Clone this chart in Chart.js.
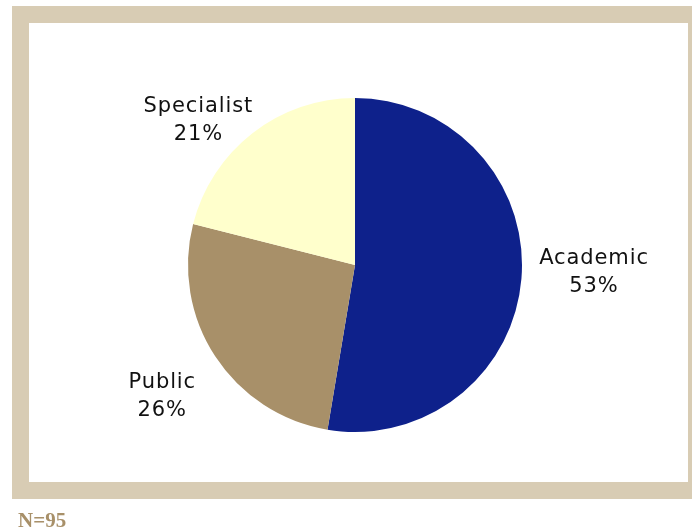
<!DOCTYPE html>
<html>
<head>
<meta charset="utf-8">
<script src="https://cdn.jsdelivr.net/npm/chart.js@4/dist/chart.umd.min.js"></script>
<style>
    html, body { margin: 0; padding: 0; background: #ffffff; }
    #wrap { position: relative; width: 692px; height: 530px; overflow: hidden; }
    #frame { position: absolute; left: 12px; top: 6px; width: 680px; height: 493px; background: #d8ccb4; }
    #inner { position: absolute; left: 17px; top: 17px; width: 659px; height: 459px; background: #ffffff; }
    #chartBox { position: absolute; left: 0; top: 0; width: 692px; height: 530px; }
    #note { position: absolute; left: 18px; top: 510px; font: bold 21px 'Liberation Serif', serif; line-height: 21px; color: #a89069; }
</style>
</head>
<body>
<div id="wrap">
    <div id="frame"><div id="inner"></div></div>
    <div id="chartBox"><canvas id="pieChart" width="692" height="530"></canvas></div>
    <div id="note">N=95</div>
</div>
<script>
// ---- data (respondents, N=95) ----
const categories = ['Academic', 'Public', 'Specialist'];
const counts = [50, 25, 20];
const percentLabels = ['53%', '26%', '21%'];

// ---- style ----
const sliceColors = ['#0e218b', '#a89069', '#ffffcc'];
const labelDistance = 1.4;              // times the outer radius
const labelNudge = [[6, -12], [3, 4], [-13, 40]];

// draw "Name / NN%" labels next to each slice
const sliceLabels = {
    id: 'sliceLabels',
    afterDatasetsDraw(chart) {
        const ctx = chart.ctx;
        const meta = chart.getDatasetMeta(0);
        ctx.save();
        ctx.font = '21px "DejaVu Sans", Verdana, sans-serif';
        ctx.letterSpacing = '0.9px';
        ctx.fillStyle = '#111111';
        ctx.textAlign = 'center';
        ctx.textBaseline = 'middle';
        meta.data.forEach(function (arc, i) {
            const p = arc.getProps(['x', 'y', 'startAngle', 'endAngle', 'outerRadius'], true);
            const mid = (p.startAngle + p.endAngle) / 2;
            const x = p.x + Math.cos(mid) * p.outerRadius * labelDistance + labelNudge[i][0];
            const y = p.y + Math.sin(mid) * p.outerRadius * labelDistance + labelNudge[i][1];
            ctx.fillText(categories[i], x, y - 14);
            ctx.fillText(percentLabels[i], x, y + 14);
        });
        ctx.restore();
    }
};

const ctxPie = document.getElementById('pieChart').getContext('2d');
const pieChart = new Chart(ctxPie, {
    type: 'pie',
    data: {
        labels: categories,
        datasets: [{
            data: counts,
            backgroundColor: sliceColors,
            borderWidth: 0
        }]
    },
    options: {
        responsive: false,
        animation: false,
        layout: {
            padding: { top: 98, bottom: 98, left: 188, right: 170 }
        },
        plugins: {
            legend: { display: false },
            tooltip: { enabled: false }
        }
    },
    plugins: [sliceLabels]
});
</script>
</body>
</html>
